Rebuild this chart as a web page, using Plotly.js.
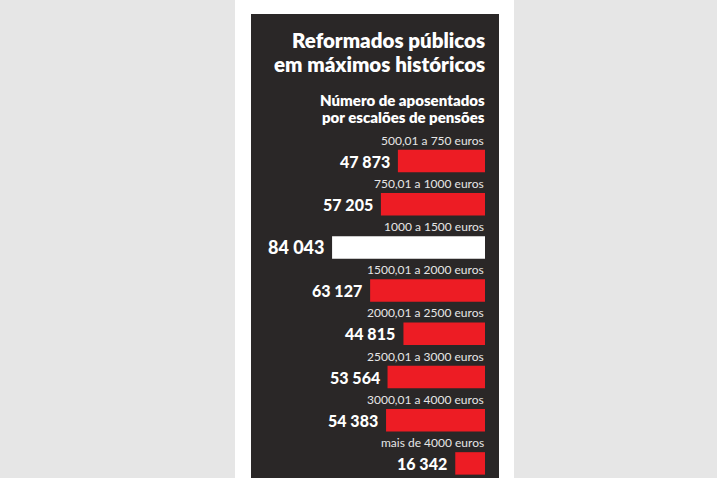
<!DOCTYPE html>
<html>
<head>
<meta charset="utf-8">
<script src="https://cdn.plot.ly/plotly-3.0.1.min.js"></script>
<style>
  html, body { margin: 0; padding: 0; background: #e6e6e6; }
  #canvas { width: 717px; height: 478px; }
</style>
</head>
<body>
<div id="canvas"></div>
<script>
// data
const escaloes = [
    "500,01 a 750 euros",
    "750,01 a 1000 euros",
    "1000 a 1500 euros",
    "1500,01 a 2000 euros",
    "2000,01 a 2500 euros",
    "2500,01 a 3000 euros",
    "3000,01 a 4000 euros",
    "mais de 4000 euros"
];
const aposentados = [47873, 57205, 84043, 63127, 44815, 53564, 54383, 16342];
const destaque = "1000 a 1500 euros";

const tituloLinhas = ["Reformados públicos", "em máximos históricos"];
const subtituloLinhas = ["Número de aposentados", "por escalões de pensões"];

// page geometry (px)
const W = 717;
const H = 478;
const FONT = "Lato, 'Open Sans', sans-serif";
const RED = "#ed1c24";

// formatting "47 873"
const fmt = (v) => String(v).replace(/\B(?=(\d{3})+(?!\d))/g, " ");

var getPlotData = () => [{
    type: "bar",
    orientation: "h",
    x: aposentados,
    y: escaloes,
    width: 0.52,
    marker: {
        color: escaloes.map((c) => (c === destaque ? "#ffffff" : RED)),
        line: { width: 0 },
    },
    hoverinfo: "skip",
}];

var headLine = (text, yPx, size) => ({
    x: 485 / W, y: 1 - yPx / H, xref: "paper", yref: "paper",
    xanchor: "right", yanchor: "middle", xshift: 2,
    text: text, showarrow: false,
    font: { family: FONT, size: size, weight: 800, color: "#ffffff" },
});

var getAnnotations = () => {
    let ann = [];
    escaloes.forEach((cat, i) => {
        // category label above the bar
        ann.push({
            x: 0, y: cat, xref: "x", yref: "y",
            xanchor: "right", yanchor: "middle",
            yshift: 21, xshift: 1,
            text: cat, showarrow: false,
            font: { family: FONT, size: 12, color: "#e6e6e6" },
        });
        // value label left of the bar
        ann.push({
            x: aposentados[i], y: cat, xref: "x", yref: "y",
            xanchor: "right", yanchor: "middle",
            xshift: -6,
            text: fmt(aposentados[i]), showarrow: false,
            font: { family: FONT, size: cat === destaque ? 18 : 16, weight: 900, color: "#ffffff" },
        });
    });
    // title and subtitle, one line each
    ann.push(headLine(tituloLinhas[0], 40, 20.5));
    ann.push(headLine(tituloLinhas[1], 63.5, 20.5));
    ann.push(headLine(subtituloLinhas[0], 99.5, 15));
    ann.push(headLine(subtituloLinhas[1], 116.5, 15));
    return ann;
};

var getPlotLayout = () => ({
    width: W,
    height: H,
    margin: { l: 0, r: 0, t: 0, b: 0 },
    paper_bgcolor: "#e6e6e6",
    plot_bgcolor: "rgba(0,0,0,0)",
    showlegend: false,
    xaxis: {
        domain: [251 / W, 485 / W],
        range: [128600, 0],
        showgrid: false, zeroline: false, showticklabels: false, showline: false,
        fixedrange: true,
    },
    yaxis: {
        domain: [0, 1],
        type: "category",
        range: [(H - 161) / 43.2, -161 / 43.2],
        showgrid: false, zeroline: false, showticklabels: false, showline: false,
        fixedrange: true,
    },
    shapes: [
        // white page strip
        { type: "rect", xref: "paper", yref: "paper", layer: "below",
          x0: 235 / W, x1: 514 / W, y0: 0, y1: 1,
          fillcolor: "#ffffff", line: { width: 0 } },
        // dark panel
        { type: "rect", xref: "paper", yref: "paper", layer: "below",
          x0: 251 / W, x1: 499 / W, y0: 0, y1: 1 - 14 / H,
          fillcolor: "#2a2727", line: { width: 0 } },
    ],
    annotations: getAnnotations(),
});

Plotly.newPlot("canvas", getPlotData(), getPlotLayout(), { displayModeBar: false, staticPlot: true });
</script>
</body>
</html>
